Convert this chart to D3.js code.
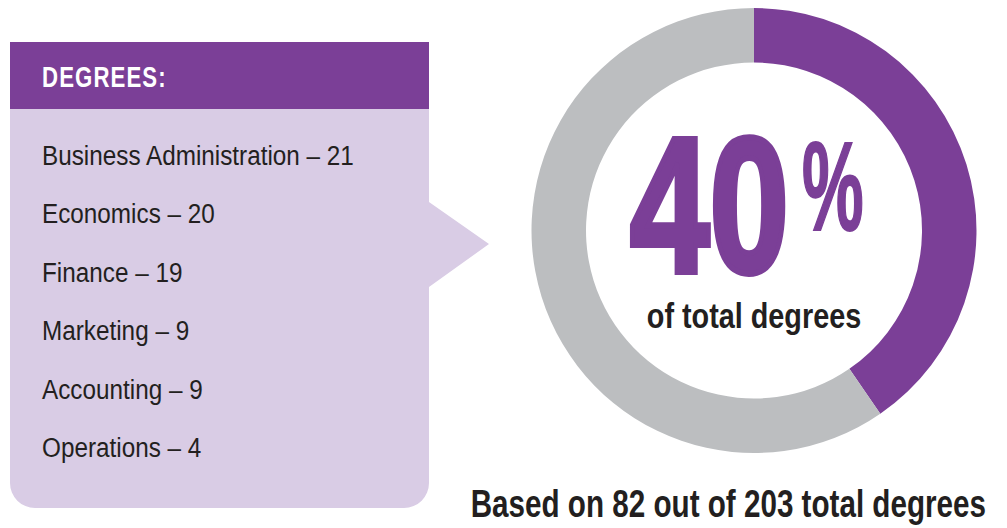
<!DOCTYPE html>
<html>
<head>
<meta charset="utf-8">
<script src="https://cdn.jsdelivr.net/npm/d3@7"></script>
<style>
  html, body { margin: 0; padding: 0; background: #ffffff; }
  svg { display: block; }
  text { font-family: "Liberation Sans", Arial, sans-serif; }
</style>
</head>
<body>
<svg id="chart" width="1007" height="528"></svg>
<script>
// Degree counts by major
const majors = ["Business Administration", "Economics", "Finance", "Marketing", "Accounting", "Operations"];
const majorCounts = [21, 20, 19, 9, 9, 4];

// Share of all degrees
const shareLabels = ["Selected majors", "Other degrees"];
const totalDegrees = 203;
const selectedDegrees = 82;
const shareValues = [selectedDegrees, totalDegrees - selectedDegrees];

const PURPLE = "#7b3f97";
const LAVENDER = "#d9cce5";
const GREY = "#bcbec0";
const INK = "#231f20";

const svg = d3.select("#chart");

// Condensed text: horizontally squeezed type placed at (x, y)
function squeezed(parent, x, y, sx, str) {
  return parent.append("text")
    .attr("transform", `translate(${x},${y}) scale(${sx},1)`)
    .text(str);
}

// ---- Degree list panel ----
const panel = { x: 10, y: 42, w: 419, h: 466, header: 67, r: 25 };
const pointer = { top: 202, tip: 489, tipY: 244, bottom: 287 };

const panelPath = d3.path();
panelPath.moveTo(panel.x, panel.y);
panelPath.lineTo(panel.x + panel.w, panel.y);
panelPath.lineTo(panel.x + panel.w, pointer.top);
panelPath.lineTo(pointer.tip, pointer.tipY);
panelPath.lineTo(panel.x + panel.w, pointer.bottom);
panelPath.lineTo(panel.x + panel.w, panel.y + panel.h - panel.r);
panelPath.arcTo(panel.x + panel.w, panel.y + panel.h, panel.x + panel.w - panel.r, panel.y + panel.h, panel.r);
panelPath.lineTo(panel.x + panel.r, panel.y + panel.h);
panelPath.arcTo(panel.x, panel.y + panel.h, panel.x, panel.y + panel.h - panel.r, panel.r);
panelPath.closePath();

svg.append("path").attr("d", panelPath.toString()).attr("fill", LAVENDER);
svg.append("rect")
  .attr("x", panel.x).attr("y", panel.y)
  .attr("width", panel.w).attr("height", panel.header)
  .attr("fill", PURPLE);

squeezed(svg, 42, 87, 0.74, "DEGREES:")
  .attr("fill", "#ffffff")
  .attr("font-size", 30)
  .attr("font-weight", "bold")
  .attr("letter-spacing", 1.5);

const rowY = d3.scalePoint()
  .domain(majors)
  .range([165, 457]);

const list = svg.append("g");
majors.forEach((m, i) => {
  squeezed(list, 42, rowY(m), 0.9, `${m} \u2013 ${majorCounts[i]}`)
    .attr("fill", INK)
    .attr("font-size", 27);
});

// ---- Share donut ----
const cx = 754, cy = 230.5;
const outerR = 222.5, innerR = 168;

const pie = d3.pie().sort(null).value(d => d)(shareValues);
const arc = d3.arc().innerRadius(innerR).outerRadius(outerR);
const color = d3.scaleOrdinal().domain(shareLabels).range([PURPLE, GREY]);

const donut = svg.append("g").attr("transform", `translate(${cx},${cy})`);
donut.selectAll("path")
  .data(pie)
  .join("path")
  .attr("d", arc)
  .attr("fill", (d, i) => color(shareLabels[i]));

const pct = Math.floor(selectedDegrees / totalDegrees * 100);

// Big percentage figure, heavy condensed
squeezed(donut, -124, 41.5, 0.74, pct)
  .attr("fill", PURPLE)
  .attr("stroke", PURPLE)
  .attr("stroke-width", 6)
  .attr("stroke-linejoin", "miter")
  .attr("font-size", 193)
  .attr("font-weight", "bold");

squeezed(donut, 48, -1, 0.55, "%")
  .attr("fill", PURPLE)
  .attr("stroke", PURPLE)
  .attr("stroke-width", 2)
  .attr("font-size", 126)
  .attr("font-weight", "bold");

squeezed(donut, 0, 97, 0.8, "of total degrees")
  .attr("text-anchor", "middle")
  .attr("fill", INK)
  .attr("font-size", 36)
  .attr("font-weight", "bold");

squeezed(svg, 986, 517, 0.78, `Based on ${selectedDegrees} out of ${totalDegrees} total degrees`)
  .attr("text-anchor", "end")
  .attr("fill", INK)
  .attr("font-size", 38)
  .attr("font-weight", "bold");
</script>
</body>
</html>
